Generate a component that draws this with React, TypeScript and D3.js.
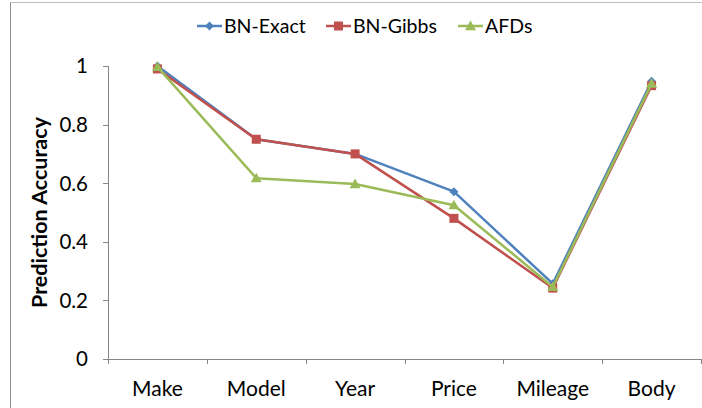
import React from "react";
import * as d3 from "d3";

const categories = ["Make", "Model", "Year", "Price", "Mileage", "Body"];
const bnExact = [1.0, 0.75, 0.7, 0.571, 0.257, 0.948];
const bnGibbs = [0.99, 0.75, 0.7, 0.48, 0.242, 0.933];
const afds = [0.997, 0.617, 0.597, 0.525, 0.246, 0.94];
const seriesNames = ["BN-Exact", "BN-Gibbs", "AFDs"];
const yTicks = [0, 0.2, 0.4, 0.6, 0.8, 1];
const yTickLabels = ["0", "0.2", "0.4", "0.6", "0.8", "1"];

const W = 702;
const H = 408;
const FONT = "Lato, 'Open Sans', sans-serif";

function Marker({ kind, x, y, color }: { kind: string; x: number; y: number; color: string }) {
  if (kind === "diamond") {
    const s = 4.5;
    return <path d={`M${x},${y - s}L${x + s},${y}L${x},${y + s}L${x - s},${y}Z`} fill={color} />;
  }
  if (kind === "square") {
    const s = 4.5;
    return <rect x={x - s} y={y - s} width={2 * s} height={2 * s} fill={color} />;
  }
  const s = 5.5;
  return <path d={`M${x},${y - s}L${x + s},${y + s * 0.75}L${x - s},${y + s * 0.75}Z`} fill={color} />;
}

export default function App() {
  const left = 108, right = 701, top = 66, bottom = 359;
  const x = d3.scalePoint<string>().domain(categories).range([left, right]).padding(0.5);
  const y = d3.scaleLinear().domain([0, 1]).range([bottom, top]);
  const band = (right - left) / categories.length;

  const series = [
    { name: seriesNames[0], values: bnExact, color: "#4F81BD", marker: "diamond" },
    { name: seriesNames[1], values: bnGibbs, color: "#C0504D", marker: "square" },
    { name: seriesNames[2], values: afds, color: "#9BBB59", marker: "triangle" },
  ];

  const line = d3
    .line<number>()
    .x((_, i) => x(categories[i]) as number)
    .y((d) => y(d));

  const legendX = [197, 326, 458];
  const legendY = 26;

  return (
    <svg
      width={W}
      height={H}
      style={{ position: "absolute", left: 0, top: 0, background: "#fff" }}
      fontFamily={FONT}
    >
      <rect x={0} y={0} width={W} height={H} fill="#fff" />
      {/* chart border */}
      <line x1={10.5} y1={2.5} x2={W} y2={2.5} stroke="#bfbfbf" strokeWidth={1} />
      <line x1={10.5} y1={2.5} x2={10.5} y2={H} stroke="#8c8c8c" strokeWidth={1} />

      {/* y axis */}
      <line x1={left + 0.5} y1={top} x2={left + 0.5} y2={bottom} stroke="#868686" strokeWidth={1} />
      {yTicks.map((t, i) => (
        <g key={t}>
          <line x1={left - 5} x2={left} y1={Math.round(y(t)) + 0.5} y2={Math.round(y(t)) + 0.5} stroke="#868686" />
          <text x={88} y={y(t)} dy="0.36em" textAnchor="end" fontSize={20.5} fill="#000">
            {yTickLabels[i]}
          </text>
        </g>
      ))}

      {/* x axis */}
      <line x1={left} y1={bottom + 0.5} x2={right} y2={bottom + 0.5} stroke="#868686" strokeWidth={1} />
      {d3.range(categories.length + 1).map((i) => (
        <line
          key={i}
          x1={Math.round(left + i * band) + 0.5}
          x2={Math.round(left + i * band) + 0.5}
          y1={bottom}
          y2={bottom + 5}
          stroke="#868686"
        />
      ))}
      {categories.map((c) => (
        <text key={c} x={x(c)} y={396} textAnchor="middle" fontSize={21} fill="#000">
          {c}
        </text>
      ))}

      {/* y title */}
      <text
        transform={`translate(47,${(top + bottom) / 2}) rotate(-90)`}
        textAnchor="middle"
        fontSize={21.5}
        fontWeight="bold"
        fill="#000"
      >
        Prediction Accuracy
      </text>

      {/* series */}
      {series.map((s) => (
        <g key={s.name}>
          <path d={line(s.values) as string} fill="none" stroke={s.color} strokeWidth={2.5} strokeLinejoin="round" />
          {s.values.map((v, i) => (
            <Marker key={i} kind={s.marker} x={x(categories[i]) as number} y={y(v)} color={s.color} />
          ))}
        </g>
      ))}

      {/* legend */}
      {series.map((s, i) => (
        <g key={s.name}>
          <line x1={legendX[i]} x2={legendX[i] + 25} y1={legendY} y2={legendY} stroke={s.color} strokeWidth={2.5} />
          <Marker kind={s.marker} x={legendX[i] + 12.5} y={legendY} color={s.color} />
          <text x={legendX[i] + 27} y={legendY} dy="0.36em" fontSize={19.5} fill="#000">
            {s.name}
          </text>
        </g>
      ))}
    </svg>
  );
}
